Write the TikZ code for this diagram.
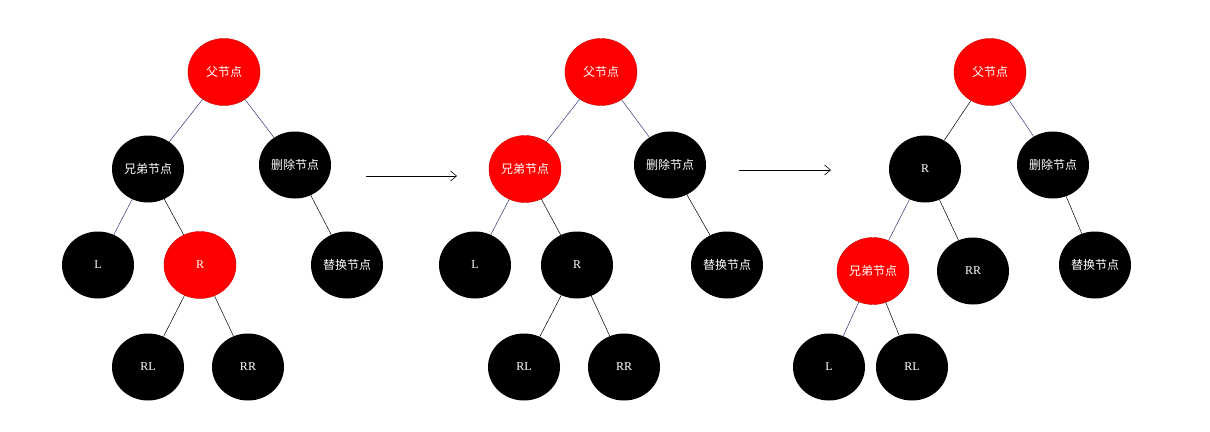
\documentclass[tikz,border=0pt]{standalone}
\usepackage{fontspec}
\setmainfont{Liberation Serif}
\newfontfamily\cjk{Noto Sans CJK SC}
\usetikzlibrary{shapes.geometric,arrows.meta}
\begin{document}
\begin{tikzpicture}[x=1pt,y=-1pt,
  nd/.style={ellipse,minimum width=72pt,minimum height=67pt,inner sep=0pt,text=white,font=\fontsize{12}{12}\selectfont},
  bk/.style={nd,fill=black},
  rd/.style={nd,fill=red,draw=red!80!black,line width=0.4pt},
  ga/.style={draw=black!55!blue!60!gray,line width=0.5pt},
  gb/.style={draw=black,line width=0.5pt},
  arr/.style={draw=black,line width=0.6pt,-{Straight Barb[length=6pt,width=10pt]}}]
\useasboundingbox (0,0) rectangle (1210,431);
% tree 1
\node[rd] (p1) at (224,72) {\cjk 父节点};
\node[bk] (s1) at (148,169) {\cjk 兄弟节点};
\node[bk] (d1) at (295,165) {\cjk 删除节点};
\node[bk] (l1) at (98,265) {L};
\node[rd] (r1) at (200,265) {R};
\node[bk] (t1) at (347,265) {\cjk 替换节点};
\node[bk] (rl1) at (148,367) {RL};
\node[bk] (rr1) at (248,367) {RR};
\draw[ga] (p1)--(s1); \draw[ga] (p1)--(d1); \draw[ga] (s1)--(l1);
\draw[gb] (s1)--(r1); \draw[gb] (d1)--(t1); \draw[gb] (r1)--(rl1); \draw[gb] (r1)--(rr1);
\coordinate (a1s) at (366,176); \coordinate (a1e) at (457,176);
\draw[arr] (a1s)--(a1e);
% tree 2
\node[rd] (p2) at (601,72) {\cjk 父节点};
\node[rd] (s2) at (525,169) {\cjk 兄弟节点};
\node[bk] (d2) at (670,165) {\cjk 删除节点};
\node[bk] (l2) at (475,265) {L};
\node[bk] (r2) at (577,265) {R};
\node[bk] (t2) at (727,265) {\cjk 替换节点};
\node[bk] (rl2) at (524,367) {RL};
\node[bk] (rr2) at (624,367) {RR};
\draw[ga] (p2)--(s2); \draw[ga] (p2)--(d2); \draw[ga] (s2)--(l2);
\draw[gb] (s2)--(r2); \draw[gb] (d2)--(t2); \draw[gb] (r2)--(rl2); \draw[gb] (r2)--(rr2);
\coordinate (a2s) at (739,170); \coordinate (a2e) at (831,170);
\draw[arr] (a2s)--(a2e);
% tree 3
\node[rd] (p3) at (990,72) {\cjk 父节点};
\node[bk] (r3) at (925,169) {R};
\node[bk] (d3) at (1053,165) {\cjk 删除节点};
\node[rd] (s3) at (873,271) {\cjk 兄弟节点};
\node[bk] (rr3) at (973,271) {RR};
\node[bk] (t3) at (1095,265) {\cjk 替换节点};
\node[bk] (l3) at (829,367) {L};
\node[bk] (rl3) at (912,367) {RL};
\draw[gb] (p3)--(r3); \draw[ga] (p3)--(d3); \draw[ga] (r3)--(s3);
\draw[gb] (r3)--(rr3); \draw[gb] (d3)--(t3); \draw[ga] (s3)--(l3); \draw[gb] (s3)--(rl3);
\end{tikzpicture}
\end{document}
